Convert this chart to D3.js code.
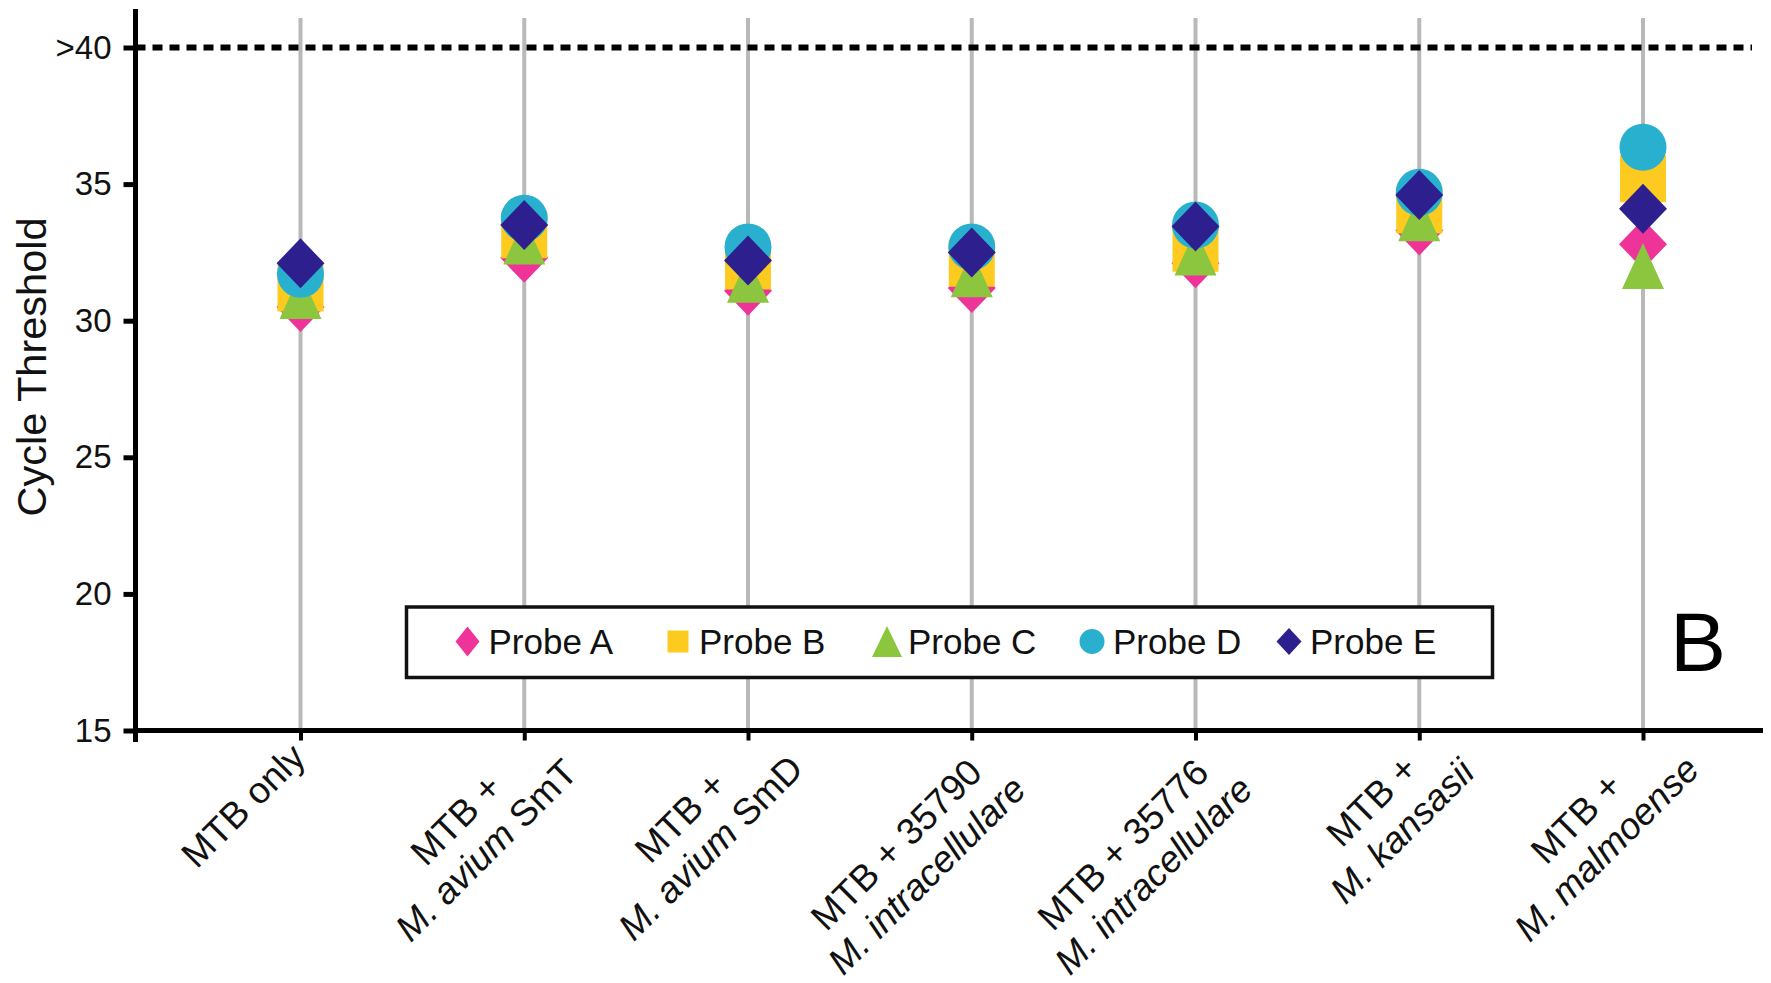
<!DOCTYPE html>
<html>
<head>
<meta charset="utf-8">
<script src="https://cdn.jsdelivr.net/npm/d3@7"></script>
<style>
  html, body { margin: 0; padding: 0; background: #fff; }
  svg { display: block; font-family: "Liberation Sans", Arial, Helvetica, sans-serif; }
</style>
</head>
<body>
<svg id="chart" width="1771" height="983"></svg>
<script>
// Sample categories (x axis)
const categories = ["MTB only", "MTB + M. avium SmT", "MTB + M. avium SmD",
  "MTB + 35790 M. intracellulare", "MTB + 35776 M. intracellulare",
  "MTB + M. kansasii", "MTB + M. malmoense"];

// Two-line tick labels; each line is a list of [text, italic] runs
const categoryLabels = [
  [[["MTB only", false]]],
  [[["MTB +", false]], [["M. avium", true], [" SmT", false]]],
  [[["MTB +", false]], [["M. avium", true], [" SmD", false]]],
  [[["MTB + 35790", false]], [["M. intracellulare", true]]],
  [[["MTB + 35776", false]], [["M. intracellulare", true]]],
  [[["MTB +", false]], [["M. kansasii", true]]],
  [[["MTB +", false]], [["M. malmoense", true]]]
];

// Cycle threshold per probe, one value per category
const probeA = [30.5, 32.3, 31.1, 31.2, 32.1, 33.3, 32.8];
const probeB = [31.2, 33.15, 32.0, 32.1, 32.65, 34.05, 35.2];
const probeC = [30.9, 32.9, 31.5, 31.7, 32.5, 33.75, 32.0];
const probeD = [31.7, 33.75, 32.7, 32.7, 33.5, 34.7, 36.35];
const probeE = [32.1, 33.5, 32.2, 32.5, 33.45, 34.6, 34.1];

const probeNames = ["Probe A", "Probe B", "Probe C", "Probe D", "Probe E"];
const probeColors = ["#ef3499", "#fdca1f", "#8cc63f", "#2ab0cf", "#2e1f8f"];
const probeShapes = ["diamond", "square", "triangle", "circle", "diamond"];

// Y ticks
const yTicks = [15, 20, 25, 30, 35, 40];
const yTickLabels = ["15", "20", "25", "30", "35", ">40"];
const cutoff = 40;

const series = [probeA, probeB, probeC, probeD, probeE].map((values, i) => ({
  name: probeNames[i], values, color: probeColors[i], shape: probeShapes[i]
}));

const svg = d3.select("#chart");

const axisLeftX = 135.5, axisBottomY = 730.5;
const y = d3.scaleLinear().domain([15, 40]).range([axisBottomY, 47.5]);
const x = d3.scalePoint().domain(categories).range([300.5, 1643]);

// marker path builders (centered on 0,0)
function shapePath(shape, w, h) {
  const p = d3.path();
  if (shape === "diamond") {
    p.moveTo(0, -h / 2); p.lineTo(w / 2, 0); p.lineTo(0, h / 2); p.lineTo(-w / 2, 0); p.closePath();
  } else if (shape === "square") {
    p.rect(-w / 2, -h / 2, w, h);
  } else if (shape === "triangle") {
    p.moveTo(0, -h / 2); p.lineTo(w / 2, h / 2); p.lineTo(-w / 2, h / 2); p.closePath();
  } else {
    p.arc(0, 0, w / 2, 0, 2 * Math.PI);
  }
  return p.toString();
}
const markerSize = { diamond: [48, 50], square: [46, 47], triangle: [42, 46], circle: [47, 47] };

// vertical guide lines at each category
svg.append("g").selectAll("line").data(categories).join("line")
  .attr("x1", d => x(d)).attr("x2", d => x(d))
  .attr("y1", 18).attr("y2", axisBottomY)
  .attr("stroke", "#b9b9b9").attr("stroke-width", 4);

// cutoff line at >40
svg.append("line")
  .attr("x1", axisLeftX).attr("x2", 1752)
  .attr("y1", y(cutoff)).attr("y2", y(cutoff))
  .attr("stroke", "#000").attr("stroke-width", 6)
  .attr("stroke-dasharray", "10 7");

// markers, Probe A at the bottom of the stack, Probe E on top
series.forEach(s => {
  const [w, h] = markerSize[s.shape];
  svg.append("g").selectAll("path").data(s.values).join("path")
    .attr("d", shapePath(s.shape, w, h))
    .attr("transform", (v, i) => `translate(${x(categories[i])},${y(v)})`)
    .attr("fill", s.color);
});

// y axis
const yAxis = d3.axisLeft(y).tickValues(yTicks)
  .tickFormat((d, i) => yTickLabels[i]).tickSize(12).tickPadding(12);
const gy = svg.append("g").attr("transform", `translate(${axisLeftX},0)`).call(yAxis);
gy.select(".domain").remove();
gy.selectAll(".tick line").attr("stroke", "#000").attr("stroke-width", 5);
gy.selectAll(".tick text").attr("font-size", 33).attr("fill", "#111")
  .attr("font-family", "'Liberation Sans', Arial, sans-serif");
svg.append("line").attr("x1", axisLeftX).attr("x2", axisLeftX)
  .attr("y1", 9).attr("y2", 742).attr("stroke", "#000").attr("stroke-width", 5);

// x axis
const xAxis = d3.axisBottom(x).tickSize(10).tickFormat("");
const gx = svg.append("g").attr("transform", `translate(0,${axisBottomY})`).call(xAxis);
gx.select(".domain").remove();
gx.selectAll(".tick line").attr("stroke", "#000").attr("stroke-width", 4);
svg.append("line").attr("x1", axisLeftX - 2.5).attr("x2", 1763)
  .attr("y1", axisBottomY).attr("y2", axisBottomY)
  .attr("stroke", "#000").attr("stroke-width", 5);

// rotated category labels; per-label nudge of the label block (screen px)
const labelNudge = [[-12, 10], [6, -5], [8, -9], [7, 12], [10, 12], [8, -5], [9, -8]];
const labelFont = 37, lineGap = 43;
categories.forEach((c, i) => {
  const [nx, ny] = labelNudge[i];
  const g = svg.append("g")
    .attr("transform", `translate(${x(c) + nx},${axisBottomY + ny}) rotate(-45)`);
  const texts = categoryLabels[i].map((runs, li) => {
    const t = g.append("text")
      .attr("y", labelFont * 0.72 + li * lineGap)
      .attr("font-size", labelFont).attr("fill", "#111");
    runs.forEach(([str, it]) => {
      t.append("tspan").text(str).attr("font-style", it ? "italic" : "normal");
    });
    return t;
  });
  const widths = texts.map(t => t.node().getComputedTextLength());
  const W = d3.max(widths);
  texts.forEach(t => t.attr("x", -W / 2).attr("text-anchor", "middle"));
});

// y axis title
svg.append("text")
  .attr("transform", `translate(46,367) rotate(-90)`)
  .attr("text-anchor", "middle").attr("font-size", 41.5).attr("fill", "#111")
  .text("Cycle Threshold");

// legend
const legend = svg.append("g");
legend.append("rect").attr("x", 406.5).attr("y", 607).attr("width", 1086).attr("height", 70.5)
  .attr("fill", "#fff").attr("stroke", "#111").attr("stroke-width", 3.5);
const legendX = [467.5, 678, 887, 1092, 1289];
const legendSize = { diamond: [24, 30], square: [21, 22], triangle: [30, 31], circle: [25, 25] };
series.forEach((s, i) => {
  let [w, h] = legendSize[s.shape];
  if (i === 4) { w = 25; h = 27; }
  legend.append("path").attr("d", shapePath(s.shape, w, h))
    .attr("transform", `translate(${legendX[i]},641.5)`).attr("fill", s.color);
  legend.append("text").attr("x", legendX[i] + 21).attr("y", 654)
    .attr("font-size", 35).attr("fill", "#111").text(s.name);
});

// panel letter
svg.append("text").attr("x", 1698).attr("y", 671).attr("text-anchor", "middle")
  .attr("font-size", 84).attr("fill", "#000").text("B");
</script>
</body>
</html>
